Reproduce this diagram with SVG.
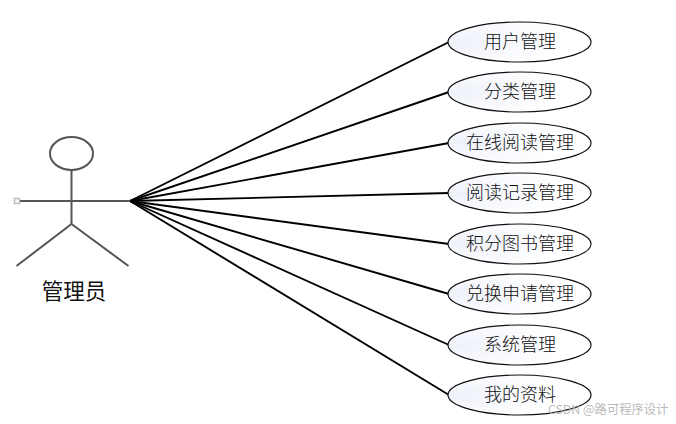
<svg xmlns="http://www.w3.org/2000/svg" width="676" height="424" viewBox="0 0 676 424">
<defs>
<radialGradient id="g" cx="0.1" cy="0.5" r="0.7"><stop offset="0" stop-color="#eff2fa"/><stop offset="1" stop-color="#ffffff"/></radialGradient>
</defs>
<style>
.u ellipse{fill:url(#g);stroke:#111;stroke-width:1.2}
.u text{font-family:"Noto Sans CJK SC",sans-serif;font-size:18px;fill:#111;text-anchor:middle;font-weight:300}
.c line{stroke:#000;stroke-width:1.9}
.a line,.a ellipse{stroke:#555;stroke-width:2;fill:none}
</style>
<rect width="676" height="424" fill="#fff"/>
<g id="connectors" class="c">
<line x1="130" y1="201" x2="449" y2="42"/>
<line x1="130" y1="201" x2="449" y2="92"/>
<line x1="130" y1="201" x2="449" y2="143"/>
<line x1="130" y1="201" x2="449" y2="193"/>
<line x1="130" y1="201" x2="449" y2="244"/>
<line x1="130" y1="201" x2="449" y2="294"/>
<line x1="130" y1="201" x2="449" y2="345"/>
<line x1="130" y1="201" x2="449" y2="395"/>
</g>
<g id="actor" class="a">
<ellipse cx="71.500" cy="153.500" rx="21.500" ry="16.500"/>
<line x1="71.500" y1="170" x2="71.500" y2="224"/>
<line x1="18" y1="201" x2="130" y2="201"/>
<line x1="71.500" y1="224" x2="16.500" y2="266"/>
<line x1="71.500" y1="224" x2="128.500" y2="266"/>
<rect x="14.500" y="198.500" width="5" height="5" fill="#fff" stroke="#bbb" stroke-width="1.500"/>
<text x="74" y="298.500" font-family="'Noto Sans CJK SC',sans-serif" font-size="21.500" text-anchor="middle" fill="#111">管理员</text>
</g>
<g id="n1" class="u"><ellipse cx="519.500" cy="42" rx="71.500" ry="20"/><text x="520" y="48">用户管理</text></g>
<g id="n2" class="u"><ellipse cx="519.500" cy="92" rx="71.500" ry="20"/><text x="520" y="98">分类管理</text></g>
<g id="n3" class="u"><ellipse cx="519.500" cy="143" rx="71.500" ry="20"/><text x="520" y="149">在线阅读管理</text></g>
<g id="n4" class="u"><ellipse cx="519.500" cy="193" rx="71.500" ry="20"/><text x="520" y="199">阅读记录管理</text></g>
<g id="n5" class="u"><ellipse cx="519.500" cy="244" rx="71.500" ry="20"/><text x="520" y="250">积分图书管理</text></g>
<g id="n6" class="u"><ellipse cx="519.500" cy="294" rx="71.500" ry="20"/><text x="520" y="300">兑换申请管理</text></g>
<g id="n7" class="u"><ellipse cx="519.500" cy="345" rx="71.500" ry="20"/><text x="520" y="351">系统管理</text></g>
<g id="n8" class="u"><ellipse cx="519.500" cy="395" rx="71.500" ry="20"/><text x="520" y="401">我的资料</text></g>
<text x="548" y="414" font-family="'Noto Sans CJK SC',sans-serif" font-size="12.300" fill="#bbb">CSDN @路可程序设计</text>
</svg>
